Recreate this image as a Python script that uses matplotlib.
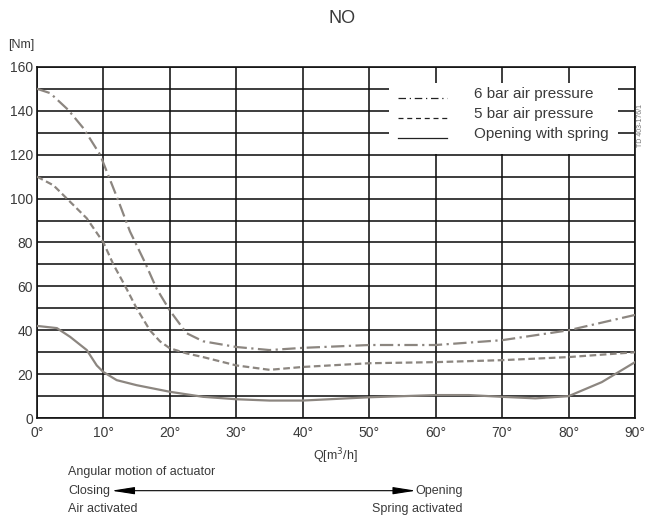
import matplotlib.pyplot as plt
from matplotlib.patches import Rectangle

plt.rcParams['font.family'] = ['Liberation Sans', 'DejaVu Sans']

# Angle (deg) and torque (Nm)
angle_6bar = [0, 2, 4.7, 7, 9.5, 12.2, 14, 16.3, 18, 20, 22.5, 25, 30, 35, 40, 50, 60, 70, 80, 90]
torque_6bar = [150, 148, 140.4, 132, 120, 99.4, 85, 70.6, 59, 49, 38.7, 35, 32.4, 31, 32, 33.3, 33.3, 35.5, 40, 47]

angle_5bar = [0, 2.5, 4.7, 7.5, 10, 11.5, 13.3, 15, 17, 18.5, 20, 22.5, 25, 30, 35, 40, 50, 60, 70, 80, 90]
torque_5bar = [110, 106, 99.4, 91, 80, 70, 60, 50, 40, 35, 31.8, 29.5, 27.8, 24, 22, 23.3, 25, 25.5, 26.4, 27.8, 30]

angle_spring = [0, 3, 5, 7.5, 9, 10, 12, 15, 20, 25, 30, 35, 40, 50, 60, 65, 70, 75, 80, 85, 90]
torque_spring = [42, 41, 37, 31, 24, 21, 17.3, 15, 12, 9.7, 8.6, 8, 8, 9.5, 10.5, 10.5, 9.7, 9, 10, 16.4, 25.5]

legend_labels = ["6 bar air pressure", "5 bar air pressure", "Opening with spring"]
x_ticks = list(range(0, 91, 10))
y_ticks = list(range(0, 161, 20))

curve_color = "#8c8680"
text_color = "#3a3a3a"

fig = plt.figure(figsize=(6.48, 5.22), dpi=100)
ax = fig.add_axes([0.057, 0.199, 0.923, 0.673])

ax.plot(angle_6bar, torque_6bar, color=curve_color, lw=1.6, dashes=(6, 2, 1, 2), zorder=4)
ax.plot(angle_5bar, torque_5bar, color=curve_color, lw=1.6, dashes=(3, 1.6), zorder=4)
ax.plot(angle_spring, torque_spring, color=curve_color, lw=1.6, zorder=4)

ax.set_xlim(0, 90)
ax.set_ylim(0, 160)
ax.set_xticks(x_ticks)
ax.set_xticklabels([f"{t}°" for t in x_ticks])
ax.set_yticks(y_ticks)
ax.set_yticks(range(10, 160, 20), minor=True)
ax.tick_params(which="both", length=0, labelsize=10, colors=text_color)
ax.tick_params(axis="x", pad=6)
ax.tick_params(axis="y", pad=3)
ax.grid(which="both", color="#111111", lw=1.15)
for s in ax.spines.values():
    s.set_color("#111111")
    s.set_linewidth(1.2)

# legend box (covers the grid)
ax.add_patch(Rectangle((0.588, 0.752), 0.384, 0.202, transform=ax.transAxes,
                       facecolor="white", edgecolor="none", zorder=3))
leg_y = [0.923, 0.866, 0.809]
styles = [dict(dashes=(6, 3, 1, 3)), dict(dashes=(4, 3)), dict()]
for y, lab, st in zip(leg_y, legend_labels, styles):
    ax.plot([0.604, 0.686], [y - 0.012, y - 0.012], transform=ax.transAxes,
            color="#222222", lw=0.9, zorder=5, **st)
    ax.text(0.731, y, lab, transform=ax.transAxes, fontsize=11,
            color=text_color, va="center", ha="left", zorder=5)

fig.text(0.528, 0.965, "NO", fontsize=13, color=text_color, ha="center", va="center")
fig.text(0.012, 0.913, "[Nm]", fontsize=9, color=text_color, ha="left", va="center")
fig.text(0.989, 0.76, "TD 403-176/1", fontsize=5, color="#777777", rotation=90,
         ha="center", va="center")
fig.text(0.517, 0.126, "Q[m$^3$/h]", fontsize=9, color=text_color, ha="center", va="center")

fig.text(0.105, 0.096, "Angular motion of actuator", fontsize=9, color=text_color, va="center")
fig.text(0.105, 0.060, "Closing", fontsize=9, color=text_color, va="center")
fig.text(0.105, 0.025, "Air activated", fontsize=9, color=text_color, va="center")
fig.text(0.714, 0.060, "Opening", fontsize=9, color=text_color, va="center", ha="right")
fig.text(0.714, 0.025, "Spring activated", fontsize=9, color=text_color, va="center", ha="right")
fig.add_artist(plt.Annotation("", xy=(0.172, 0.060), xytext=(0.642, 0.060),
                              xycoords="figure fraction",
                              arrowprops=dict(arrowstyle="<|-|>,head_length=1.4,head_width=0.22",
                                              color="black", lw=0.8, shrinkA=0, shrinkB=0)))

plt.savefig("out.png", dpi=100)
